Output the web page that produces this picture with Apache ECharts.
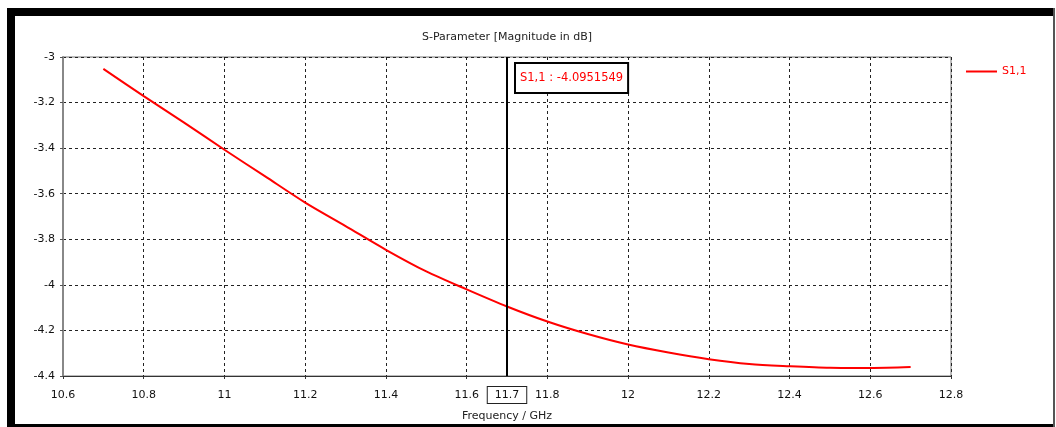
<!DOCTYPE html>
<html>
<head>
<meta charset="utf-8">
<script src="https://cdn.jsdelivr.net/npm/echarts@6/dist/echarts.min.js"></script>
<style>
html,body{margin:0;padding:0;background:#fff;}
#chart{width:1056px;height:427px;}
</style>
</head>
<body>
<div id="chart"></div>
<script>
// ---- data ----
const freq = [10.7, 10.8, 10.9, 11.0, 11.1, 11.2, 11.3, 11.4, 11.5, 11.6, 11.7, 11.8, 11.9, 12.0, 12.1, 12.2, 12.3, 12.4, 12.5, 12.6, 12.7];
const s11 = [-3.052, -3.172, -3.288, -3.407, -3.523, -3.639, -3.742, -3.846, -3.941, -4.020, -4.095, -4.161, -4.216, -4.262, -4.297, -4.326, -4.347, -4.357, -4.364, -4.365, -4.361];
const seriesName = 'S1,1';
const markerFreq = 11.7;
const markerValue = -4.0951549;
const titleText = 'S-Parameter [Magnitude in dB]';
const xAxisName = 'Frequency / GHz';

// ---- layout ----
const W = 1056, H = 427;
const G = {left: 63, right: 105, top: 57, bottom: 48};
const FONT = 'DejaVu Sans';

const chart = echarts.init(document.getElementById('chart'), null, {renderer: 'canvas'});
const fmt = v => String(Math.round(v * 10) / 10);

const option = {
  animation: false,
  backgroundColor: '#fff',
  textStyle: {fontFamily: FONT},
  grid: {left: G.left, right: G.right, top: G.top, bottom: G.bottom, show: true, borderColor: '#777', borderWidth: 1},
  legend: {
    left: 961, top: 61,
    icon: 'rect', itemWidth: 31, itemHeight: 2,
    textStyle: {color: '#ff0000', fontSize: 11, fontFamily: FONT},
    data: [seriesName]
  },
  xAxis: {
    type: 'value', min: 10.6, max: 12.8, interval: 0.2,
    name: xAxisName, nameLocation: 'middle', nameGap: 35,
    nameTextStyle: {color: '#222', fontSize: 11, fontFamily: FONT},
    axisLine: {show: true, onZero: false, lineStyle: {color: '#333', width: 1}},
    axisTick: {show: true, length: 3, lineStyle: {color: '#333'}},
    axisLabel: {color: '#111', fontSize: 11, margin: 14, formatter: fmt},
    splitLine: {show: true, lineStyle: {color: '#222', type: [3, 3], width: 1}}
  },
  yAxis: {
    type: 'value', min: -4.4, max: -3, interval: 0.2,
    axisLine: {show: true, onZero: false, lineStyle: {color: '#888', width: 2}},
    axisTick: {show: true, length: 3, lineStyle: {color: '#555'}},
    axisLabel: {color: '#111', fontSize: 11, margin: 8, formatter: fmt},
    splitLine: {show: true, lineStyle: {color: '#222', type: [3, 3], width: 1}}
  },
  series: [{
    name: seriesName,
    type: 'line',
    data: freq.map((f, i) => [f, s11[i]]),
    symbol: 'none',
    smooth: 0.3,
    lineStyle: {color: '#ff0000', width: 2},
    itemStyle: {color: '#ff0000'},
    markLine: {
      silent: true,
      symbol: 'none',
      lineStyle: {color: '#000', width: 2, type: 'solid'},
      label: {
        show: true, position: 'start', distance: 11,
        formatter: fmt(markerFreq),
        color: '#111', fontSize: 11, fontFamily: FONT,
        borderColor: '#222', borderWidth: 1, padding: [3, 7, 2, 7], backgroundColor: '#fff'
      },
      data: [{xAxis: markerFreq}]
    },
    markPoint: {
      silent: true,
      symbol: 'rect', symbolSize: 0,
      label: {
        show: true, position: [9, 7],
        formatter: seriesName + ' : ' + markerValue,
        color: '#ff0000', fontSize: 11.5, fontFamily: FONT, lineHeight: 14,
        backgroundColor: '#fff', borderColor: '#000', borderWidth: 2, padding: [7, 4, 7, 4]
      },
      data: [{coord: [markerFreq, -3]}]
    }
  }],
  graphic: [
    {type: 'text', x: (G.left + W - G.right) / 2, y: 37, style: {text: titleText, fill: '#222', font: '11px "DejaVu Sans"', textAlign: 'center', textVerticalAlign: 'middle'}},
    {type: 'rect', shape: {x: 7, y: 8, width: 1048, height: 8}, style: {fill: '#000'}},
    {type: 'rect', shape: {x: 7, y: 8, width: 8, height: 419}, style: {fill: '#000'}},
    {type: 'rect', shape: {x: 7, y: 424, width: 1048, height: 3}, style: {fill: '#000'}},
    {type: 'rect', shape: {x: 1053, y: 8, width: 2, height: 419}, style: {fill: '#555'}}
  ]
};
chart.setOption(option);
</script>
</body>
</html>
